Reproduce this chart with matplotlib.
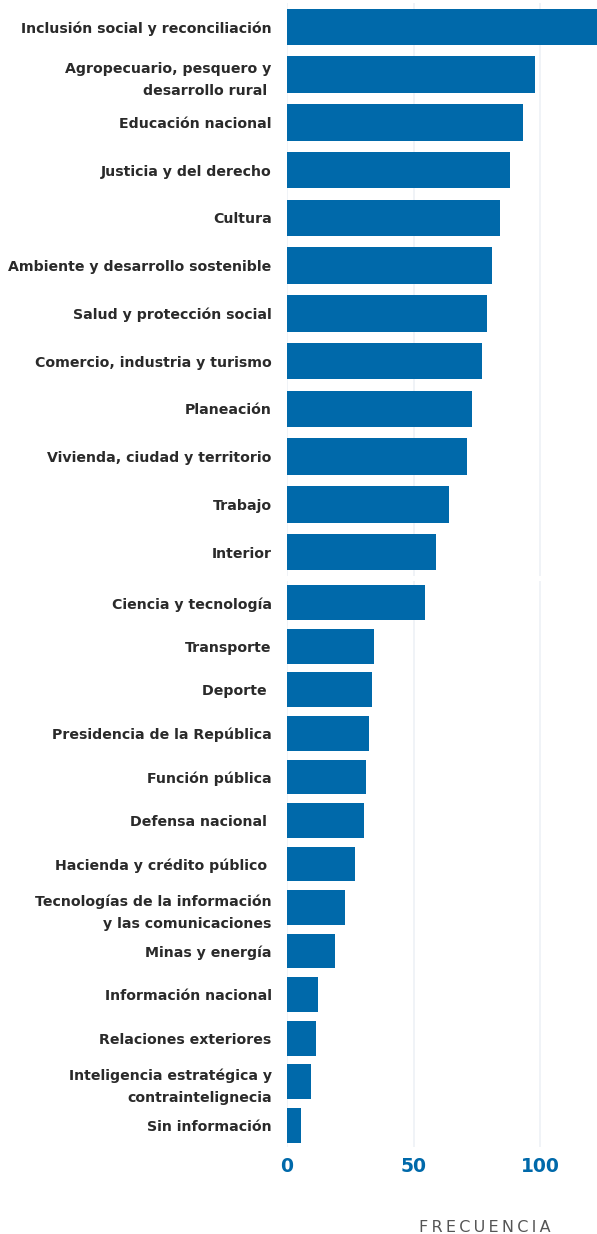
import matplotlib
matplotlib.use("Agg")
import matplotlib.pyplot as plt

# Frecuencia por sector
categorias = [
    "Inclusión social y reconciliación",
    "Agropecuario, pesquero y\ndesarrollo rural ",
    "Educación nacional",
    "Justicia y del derecho",
    "Cultura",
    "Ambiente y desarrollo sostenible",
    "Salud y protección social",
    "Comercio, industria y turismo",
    "Planeación",
    "Vivienda, ciudad y territorio",
    "Trabajo",
    "Interior",
    "Ciencia y tecnología",
    "Transporte",
    "Deporte ",
    "Presidencia de la República",
    "Función pública",
    "Defensa nacional ",
    "Hacienda y crédito público ",
    "Tecnologías de la información\ny las comunicaciones",
    "Minas y energía",
    "Información nacional",
    "Relaciones exteriores",
    "Inteligencia estratégica y\ncontraintelignecia",
    "Sin información",
]
frecuencias = [124, 98, 93, 88, 84, 81, 79, 77, 73, 71, 64, 59,
               54.5, 34.4, 33.6, 32.4, 31.2, 30.4, 26.8, 23, 19, 12.2, 11.4, 9.5, 5.5]
ticks_x = [0, 50, 100]

AZUL = "#0069AA"
GRIS_TEXTO = "#2a2a2a"
GRID = "#EDF1F6"
W, H = 597, 1234
CORTE = 12  # la imagen original está compuesta de dos bloques

fig = plt.figure(figsize=(W / 100, H / 100), dpi=100)
fig.patch.set_facecolor("white")


def bloque(top_px, bottom_px, cats, vals, alto_barra, con_ticks):
    ax = fig.add_axes([287 / W, 1 - bottom_px / H, (W - 287) / W, (bottom_px - top_px) / H])
    pos = list(range(len(cats)))
    ax.barh(pos, vals, height=alto_barra, color=AZUL, zorder=2)
    ax.set_ylim(len(cats) - 0.5, -0.5)
    ax.set_xlim(0, 122.4)
    ax.set_yticks(pos)
    ax.set_yticklabels(cats, fontsize=10.2, fontweight="bold", color=GRIS_TEXTO,
                       ha="right", linespacing=1.7)
    ax.set_xticks(ticks_x)
    ax.grid(axis="x", color=GRID, linewidth=1.2, zorder=0)
    for s in ax.spines.values():
        s.set_visible(False)
    ax.tick_params(axis="y", length=0, pad=11)
    ax.tick_params(axis="x", length=0, pad=7)
    if con_ticks:
        ax.set_xticklabels([str(t) for t in ticks_x], fontsize=13.5, fontweight="bold", color=AZUL)
    else:
        ax.set_xticklabels([])
    return ax


bloque(3, 576, categorias[:CORTE], frecuencias[:CORTE], 0.76, False)
bloque(581, 1147, categorias[CORTE:], frecuencias[CORTE:], 0.8, True)

fig.text(485 / W, 1 - 1227 / H, "\u2009".join("FRECUENCIA"), fontsize=11.5,
         color="#555555", ha="center", va="center")

fig.savefig("out.png", dpi=100, facecolor="white")
plt.close(fig)
